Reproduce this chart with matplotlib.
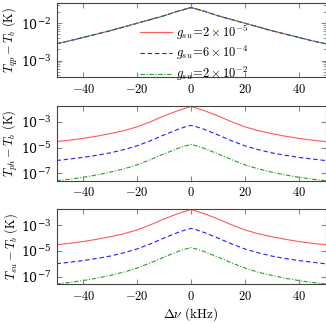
import matplotlib
matplotlib.use("Agg")
import matplotlib.pyplot as plt
import matplotlib.ticker as mticker
import numpy as np

plt.rcParams['mathtext.fontset'] = 'cm'
plt.rcParams['font.family'] = 'serif'
plt.rcParams['font.size'] = 9

# desintonia en kHz
dnu = [-50, -45, -40, -35, -30, -25, -20, -15, -10, -5, -2.5, 0,
       2.5, 5, 10, 15, 20, 25, 30, 35, 40, 45, 50]

# log10 de T - T_b
qp_log = [-2.55, -2.47, -2.38, -2.29, -2.20, -2.10, -2.00, -1.90, -1.80, -1.68, -1.63, -1.58,
          -1.63, -1.68, -1.80, -1.90, -2.00, -2.10, -2.20, -2.29, -2.38, -2.47, -2.55]

red_log = [-4.52, -4.41, -4.27, -4.10, -3.90, -3.67, -3.37, -2.97, -2.52, -2.12, -1.95, -1.78,
           -1.95, -2.12, -2.52, -2.97, -3.37, -3.67, -3.90, -4.10, -4.27, -4.41, -4.52]
blue_log = [-6.00, -5.88, -5.75, -5.59, -5.40, -5.15, -4.85, -4.45, -4.00, -3.58, -3.40, -3.26,
            -3.40, -3.58, -4.00, -4.45, -4.85, -5.15, -5.40, -5.59, -5.75, -5.88, -6.00]
green_log = [-7.57, -7.45, -7.30, -7.12, -6.90, -6.65, -6.33, -5.92, -5.48, -5.06, -4.88, -4.75,
             -4.88, -5.06, -5.48, -5.92, -6.33, -6.65, -6.90, -7.12, -7.30, -7.45, -7.57]

etiquetas = [r'$g_{su}\!=\!2\times10^{-5}$',
             r'$g_{su}\!=\!6\times10^{-4}$',
             r'$g_{su}\!=\!2\times10^{-2}$']
colores = ['#ff5a5a', '#1f1fff', '#2e9a2e']
estilos = ['-', (0, (4, 2.5)), (0, (4, 1.5, 1, 1.5))]

ylabels = [r'$T_{qp}-T_b\ (\mathrm{K})$',
           r'$T_{ph}-T_b\ (\mathrm{K})$',
           r'$T_{su}-T_b\ (\mathrm{K})$']

x = np.array(dnu)
series = [
    [qp_log, qp_log, qp_log],
    [red_log, blue_log, green_log],
    [red_log, blue_log, green_log],
]

fig = plt.figure(figsize=(3.26, 3.24), dpi=100)
W, H = 326, 324
cajas = [(2.7, 77.3), (106, 180.7), (209, 284)]
left, right = 56.5, 325.5
ylims = [(10**-3.45, 10**-1.45), (10**-7.57, 10**-1.75), (10**-7.57, 10**-1.75)]

for i, (top, bot) in enumerate(cajas):
    ax = fig.add_axes([left / W, 1 - bot / H, (right - left) / W, (bot - top) / H])
    for s, c, ls, lab in zip(series[i], colores, estilos, etiquetas):
        ax.plot(x, 10**np.array(s), color=c, ls=ls, lw=0.8, label=lab)
    ax.set_yscale('log')
    ax.set_xlim(-50, 50)
    ax.set_ylim(*ylims[i])
    ax.set_xticks([-40, -20, 0, 20, 40])
    ax.xaxis.set_major_formatter(mticker.FuncFormatter(lambda v, p: r'$%d$' % v))
    if i == 0:
        ax.set_yticks([1e-3, 1e-2])
        ax.yaxis.set_minor_locator(mticker.LogLocator(base=10, subs=np.arange(2, 10)))
        ax.yaxis.set_minor_formatter(mticker.NullFormatter())
        ax.legend(loc='upper left', bbox_to_anchor=(0.31, 0.73), frameon=False,
                  fontsize=9, handlelength=2.6, handletextpad=0.3,
                  labelspacing=0.22, borderaxespad=0, borderpad=0)
    else:
        ax.set_yticks([1e-7, 1e-5, 1e-3])
        ax.yaxis.set_minor_locator(mticker.NullLocator())
    ax.tick_params(which='both', direction='in', top=True, right=True,
                   color='#888888', labelsize=9, pad=4)
    ax.tick_params(which='major', length=3.5)
    ax.tick_params(which='minor', length=2)
    for sp in ax.spines.values():
        sp.set_color('#444444')
        sp.set_linewidth(0.8)
    ax.set_ylabel(ylabels[i], fontsize=9)
    ax.yaxis.set_label_coords(-0.135, 0.5)
    if i == 2:
        ax.set_xlabel(r'$\Delta\nu\ (\mathrm{kHz})$', fontsize=9.5, labelpad=2)

fig.savefig('out.png', dpi=100)
